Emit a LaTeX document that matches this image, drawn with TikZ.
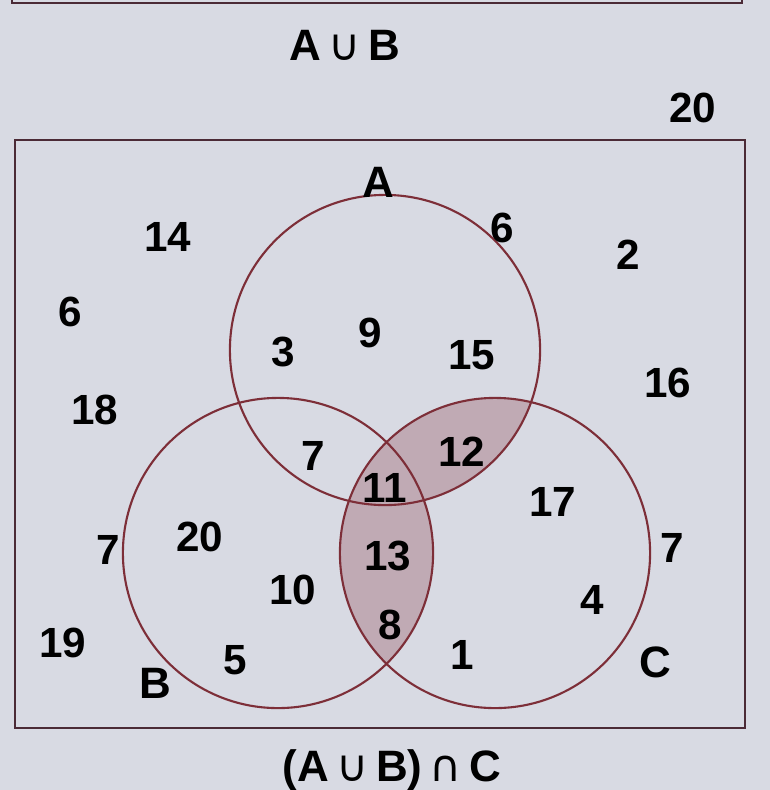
\documentclass[tikz,border=0pt]{standalone}
\usepackage{fontspec}
\setmainfont{Liberation Sans}
\newfontfamily\symfont{DejaVu Sans}
\usetikzlibrary{positioning}
\definecolor{paper}{HTML}{D8DAE3}
\definecolor{ringred}{HTML}{7D2E38}
\definecolor{framecol}{HTML}{4B2A36}
\definecolor{lensfill}{HTML}{C0AAB4}

\begin{document}
\begin{tikzpicture}[
    x=0.01cm,
    y=-0.01cm,
    num/.style={
        inner sep=0pt,
        font=\fontsize{12}{14}\selectfont\bfseries
    },
    setname/.style={
        inner sep=0pt,
        font=\fontsize{12.5}{14}\selectfont\bfseries
    },
    ring/.style={
        draw=ringred,
        line width=0.6pt
    },
    frame/.style={
        draw=framecol,
        line width=0.7pt
    }
]

% Page background
\fill[paper] (0,0) rectangle (770,790);
\useasboundingbox (0,0) rectangle (770,790);

% Edge of the box above
\draw[frame] (12,0) -- (12,3) -- (742,3) -- (742,0);

% Captions
\node[setname] (topcap) at (345,45) {A\,{\symfont\mdseries ∪}\,B};
\node[num] (pagenum) at (693,108) {20};
\node[setname] (botcap) at (392,770) {(A\,{\symfont\mdseries ∪}\,B)\,{\symfont\mdseries ∩}\,C};

% Universal set
\coordinate (ul) at (15,140);
\coordinate (lr) at (745,728);
\draw[frame] (ul) rectangle (lr);

% Circle centres
\coordinate (cA) at (385,350);
\coordinate (cB) at (278,553);
\coordinate (cC) at (495,553);

% Shaded region (A u B) n C
\begin{scope}
    \clip (cC) circle (1.55cm);
    \fill[lensfill] (cA) circle (1.55cm);
    \fill[lensfill] (cB) circle (1.55cm);
\end{scope}

% Circles
\draw[ring] (cA) circle (1.55cm);
\draw[ring] (cB) circle (1.55cm);
\draw[ring] (cC) circle (1.55cm);

% Set names
\node[setname] (nameA) at (378,182) {A};
\node[setname] (nameB) at (155,683) {B};
\node[setname] (nameC) at (655,662) {C};

% Outside the circles
\node[num] (u14) at (168,237) {14};
\node[num] (u6) at (70,312) {6};
\node[num] (u18) at (95,410) {18};
\node[num] (u7a) at (108,550) {7};
\node[num] (u19) at (63,643) {19};
\node[num] (u6b) at (502,228) {6};
\node[num] (u2) at (628,255) {2};
\node[num] (u16) at (668,383) {16};
\node[num] (u7b) at (672,548) {7};

% Inside the circles
\node[num] (a3) at (283,352) {3};
\node[num] (a9) at (370,333) {9};
\node[num] (a15) at (472,355) {15};
\node[num] (ab7) at (313,456) {7};
\node[num] (ac12) at (462,452) {12};
\node[num] (abc11) at (385,488) {11};
\node[num] (c17) at (553,502) {17};
\node[num] (b20) at (200,537) {20};
\node[num] (bc13) at (388,556) {13};
\node[num] (b10) at (293,590) {10};
\node[num] (c4) at (592,600) {4};
\node[num] (bc8) at (390,625) {8};
\node[num] (b5) at (235,660) {5};
\node[num] (c1) at (462,655) {1};

\end{tikzpicture}
\end{document}
